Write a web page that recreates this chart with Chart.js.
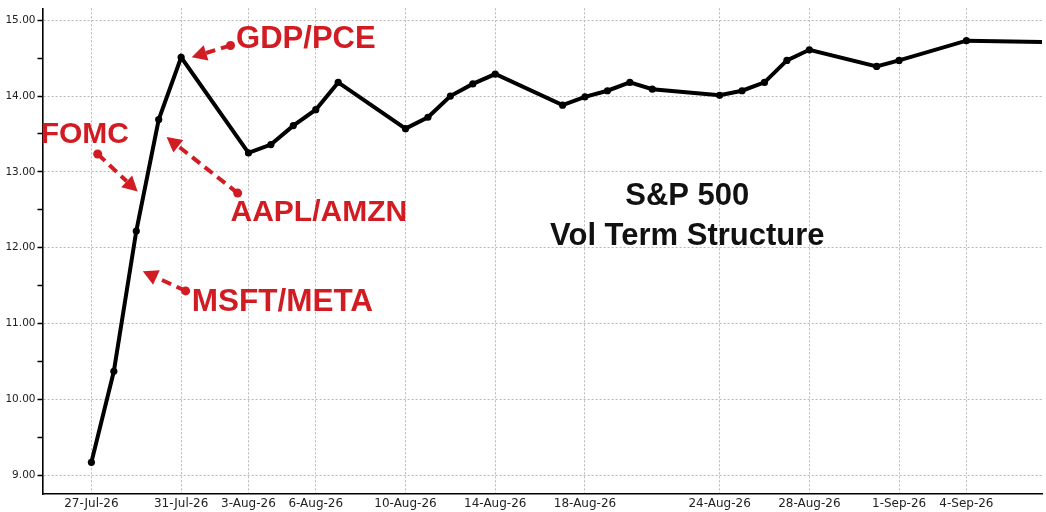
<!DOCTYPE html>
<html>
<head>
<meta charset="utf-8">
<script src="https://cdn.jsdelivr.net/npm/chart.js@4.4.1/dist/chart.umd.min.js"></script>
<style>
  html, body { margin: 0; padding: 0; background: #ffffff; }
  #wrap { width: 1046px; height: 512px; position: relative; }
</style>
</head>
<body>
<div id="wrap"><canvas id="chart"></canvas></div>
<script>
// ---- Data ----
const expiryDates = ['27-Jul-26','28-Jul-26','29-Jul-26','30-Jul-26','31-Jul-26',
  '3-Aug-26','4-Aug-26','5-Aug-26','6-Aug-26','7-Aug-26',
  '10-Aug-26','11-Aug-26','12-Aug-26','13-Aug-26','14-Aug-26',
  '17-Aug-26','18-Aug-26','19-Aug-26','20-Aug-26','21-Aug-26',
  '24-Aug-26','25-Aug-26','26-Aug-26','27-Aug-26','28-Aug-26',
  '31-Aug-26','1-Sep-26','4-Sep-26','8-Sep-26'];
const impliedVol = [9.17,10.37,12.22,13.69,14.51,
  13.25,13.36,13.61,13.82,14.18,
  13.57,13.72,14.00,14.16,14.29,
  13.88,13.99,14.07,14.18,14.09,
  14.01,14.07,14.18,14.47,14.61,
  14.39,14.47,14.73,14.71];
const xTickLabels = ['27-Jul-26','31-Jul-26','3-Aug-26','6-Aug-26','10-Aug-26','14-Aug-26',
  '18-Aug-26','24-Aug-26','28-Aug-26','1-Sep-26','4-Sep-26'];
const yTickValues = [9, 10, 11, 12, 13, 14, 15];
const titleLines = ['S&P 500', 'Vol Term Structure'];
const noteTexts = ['GDP/PCE', 'FOMC', 'AAPL/AMZN', 'MSFT/META'];

// ---- helpers ----
const MONTHS = {Jan:0,Feb:1,Mar:2,Apr:3,May:4,Jun:5,Jul:6,Aug:7,Sep:8,Oct:9,Nov:10,Dec:11};
function dayNum(s) {
  const [d, m, y] = s.split('-');
  return Date.UTC(2000 + Number(y), MONTHS[m], Number(d)) / 86400000;
}
const day0 = dayNum(expiryDates[0]);
const points = expiryDates.map((d, i) => ({ x: dayNum(d), y: impliedVol[i] }));
const tickLabelByDay = {};
xTickLabels.forEach(l => { tickLabelByDay[dayNum(l)] = l; });

const RED = '#d21c23';

// annotation placement, in (days after first expiry, vol) coordinates
const notes = [
  { text: noteTexts[0], tx: 6.45, ty: 14.64, size: 31, from: [6.20, 14.667], to: [4.47, 14.51] },
  { text: noteTexts[1], tx: -2.26, ty: 13.38, size: 30, from: [0.28, 13.235], to: [2.06, 12.74] },
  { text: noteTexts[2], tx: 6.20, ty: 12.35, size: 30, from: [6.52, 12.72], to: [3.35, 13.46] },
  { text: noteTexts[3], tx: 4.47, ty: 11.17, size: 31.5, from: [4.20, 11.43], to: [2.29, 11.69] }
];
const titlePos = { tx: 26.56, ty: [12.56, 12.03] };

const annotPlugin = {
  id: 'annot',
  afterDatasetsDraw(chart) {
    const { ctx, scales: { x, y } } = chart;
    const px = d => x.getPixelForValue(day0 + d);
    const py = v => y.getPixelForValue(v);
    ctx.save();
    notes.forEach(n => {
      const x1 = px(n.from[0]), y1 = py(n.from[1]);
      const x2 = px(n.to[0]), y2 = py(n.to[1]);
      const ang = Math.atan2(y2 - y1, x2 - x1);
      const L = 15, W = 8;
      const bx = x2 - L * Math.cos(ang), by = y2 - L * Math.sin(ang);
      ctx.strokeStyle = RED; ctx.fillStyle = RED;
      ctx.lineWidth = 4; ctx.setLineDash([10, 6]);
      ctx.beginPath(); ctx.moveTo(x1, y1); ctx.lineTo(bx, by); ctx.stroke();
      ctx.setLineDash([]);
      ctx.beginPath(); ctx.arc(x1, y1, 4.5, 0, Math.PI * 2); ctx.fill();
      ctx.beginPath();
      ctx.moveTo(x2, y2);
      ctx.lineTo(bx + W * Math.sin(ang), by - W * Math.cos(ang));
      ctx.lineTo(bx - W * Math.sin(ang), by + W * Math.cos(ang));
      ctx.closePath(); ctx.fill();
      ctx.font = 'bold ' + n.size + 'px "Liberation Sans", Arial, sans-serif';
      ctx.textAlign = 'left'; ctx.textBaseline = 'alphabetic';
      ctx.fillText(n.text, px(n.tx), py(n.ty));
    });
    ctx.fillStyle = '#111111';
    ctx.font = 'bold 31px "Liberation Sans", Arial, sans-serif';
    ctx.textAlign = 'center'; ctx.textBaseline = 'alphabetic';
    titleLines.forEach((t, i) => ctx.fillText(t, px(titlePos.tx), py(titlePos.ty[i])));
    ctx.restore();
  }
};

new Chart(document.getElementById('chart'), {
  type: 'line',
  data: {
    datasets: [{
      data: points,
      borderColor: '#000000',
      backgroundColor: '#000000',
      borderWidth: 4,
      pointRadius: 3.6,
      pointBackgroundColor: '#000000',
      pointBorderWidth: 0,
      tension: 0,
      fill: false
    }]
  },
  options: {
    responsive: true,
    maintainAspectRatio: false,
    animation: false,
    devicePixelRatio: 1,
    layout: { padding: { top: 4, right: 3, left: 0, bottom: 0 } },
    plugins: { legend: { display: false }, tooltip: { enabled: false }, title: { display: false } },
    scales: {
      x: {
        type: 'linear',
        min: day0 - 2.18,
        max: day0 + 42.37,
        afterBuildTicks(scale) {
          scale.ticks = xTickLabels.map(l => ({ value: dayNum(l) }));
        },
        afterFit(scale) { scale.height = 18; },
        ticks: {
          autoSkip: false, maxRotation: 0, minRotation: 0, padding: 3,
          color: '#222222',
          font: { family: '"DejaVu Sans", Verdana, sans-serif', size: 12 },
          callback: v => tickLabelByDay[v] || ''
        },
        grid: { color: '#b8b8b8', lineWidth: 1, drawTicks: false },
        border: { display: true, color: '#000000', width: 1.6, dash: [2, 2] }
      },
      y: {
        type: 'linear',
        min: 8.752,
        max: 15.157,
        afterBuildTicks(scale) {
          const t = [];
          yTickValues.forEach((v, i) => {
            t.push({ value: v });
            if (i < yTickValues.length - 1) t.push({ value: v + 0.5 });
          });
          scale.ticks = t;
        },
        afterFit(scale) { scale.width = 42.5; },
        ticks: {
          padding: 2,
          color: '#222222',
          font: { family: '"DejaVu Sans", Verdana, sans-serif', size: 10.5 },
          callback: v => Number.isInteger(v) ? v.toFixed(2) : ''
        },
        grid: {
          color: c => (c.tick && Number.isInteger(c.tick.value)) ? '#b8b8b8' : 'rgba(0,0,0,0)',
          lineWidth: 1,
          drawTicks: true,
          tickLength: 5,
          tickColor: '#000000',
          tickWidth: 1.5
        },
        border: { display: true, color: '#000000', width: 1.6, dash: [2, 2] }
      }
    }
  },
  plugins: [annotPlugin]
});
</script>
</body>
</html>
